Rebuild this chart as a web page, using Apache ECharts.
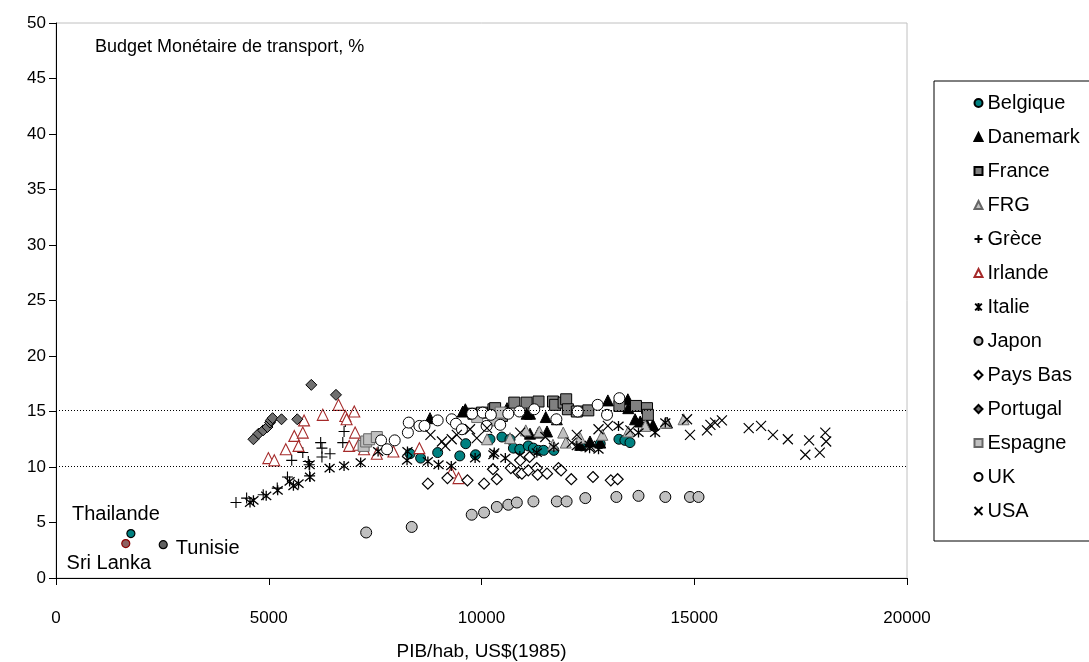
<!DOCTYPE html>
<html>
<head>
<meta charset="utf-8">
<script src="https://cdn.jsdelivr.net/npm/echarts@6/dist/echarts.min.js"></script>
<style>
  html, body { margin: 0; padding: 0; background: #fff; }
  #chart { width: 1089px; height: 662px; }
</style>
</head>
<body>
<div id="chart"></div>
<script>
// PIB/hab (US$ 1985) vs budget monétaire de transport (%)
var belgique = [[8320,11.2],[8570,10.8],[8970,11.3],[9490,11.0],[9630,12.1],[9860,11.1],[10200,12.5],[10480,12.7],[10670,12.5],[10750,11.7],[10900,11.6],[11100,11.9],[11220,11.7],[11340,11.5],[11460,11.5],[11700,11.5],[12350,11.9],[12790,12.1],[13230,12.5],[13370,12.4],[13490,12.2]];
var danemark = [[8790,14.4],[9560,15.0],[9620,15.2],[10600,15.3],[11060,14.8],[11140,14.8],[11510,14.5],[11770,14.3],[11140,13.0],[11340,13.1],[11540,13.2],[12320,12.0],[12550,12.3],[12790,12.2],[12970,16.0],[13440,16.1],[13450,15.3],[13610,14.3],[13730,14.1],[13890,13.8],[14030,13.8],[14360,14.0]];
var france = [[9810,14.8],[10010,14.9],[10280,15.2],[10320,15.3],[10480,14.6],[10770,15.8],[11060,15.8],[11340,15.9],[11680,15.9],[11730,15.6],[11930,15.8],[11990,16.1],[12030,15.2],[12240,15.0],[12510,15.1],[13240,15.5],[13630,15.5],[13890,15.3],[13910,14.7]];
var frg = [[10130,12.5],[10670,12.6],[11040,13.3],[11360,13.2],[11680,12.0],[11920,13.1],[11980,12.2],[12320,12.6],[12840,12.9],[13450,13.2],[13850,13.7],[14330,14.0],[14750,14.3]];
var grece = [[4230,6.8],[4480,7.2],[4870,7.5],[5200,8.1],[5440,9.1],[5540,10.6],[5800,11.3],[5930,10.5],[5950,10.2],[5960,9.2],[6220,12.2],[6250,11.7],[6250,10.9],[6440,11.2],[6740,12.2],[6770,13.2],[6800,14.1]];
var irlande = [[4990,10.8],[5130,10.6],[5400,11.6],[5600,12.8],[5700,11.9],[5800,13.1],[5830,14.2],[6270,14.7],[6640,15.6],[6800,14.6],[6830,14.3],[7010,15.0],[7030,13.1],[6890,11.9],[7110,12.0],[7240,11.6],[7540,11.2],[7930,11.4],[8540,11.7],[9290,9.5],[9460,9.0]];
var italie = [[4560,6.8],[4640,7.0],[4940,7.4],[5210,7.9],[5490,8.7],[5580,8.3],[5700,8.5],[5970,9.1],[5960,10.2],[6430,9.9],[6770,10.1],[7160,10.4],[7570,11.4],[8250,10.6],[8260,11.4],[8740,10.5],[8990,10.2],[9290,10.1],[9850,10.8],[10280,11.1],[10300,11.3],[10560,10.8],[10900,11.0],[11300,11.3],[11700,11.8],[12240,11.9],[12540,11.7],[12750,11.6],[13220,13.7],[13690,13.1],[14080,13.1],[14320,14.0]];
var japon = [[7290,4.1],[8360,4.6],[9770,5.7],[10060,5.9],[10360,6.4],[10630,6.6],[10830,6.8],[11220,6.9],[11770,6.9],[12000,6.9],[12440,7.2],[13170,7.3],[13690,7.4],[14320,7.3],[14900,7.3],[15100,7.3]];
var paysBas = [[8740,8.5],[9200,9.0],[9670,8.8],[10060,8.5],[10270,9.8],[10360,8.9],[10690,9.9],[10870,9.5],[10910,10.6],[10950,9.4],[11100,9.7],[11130,10.9],[11300,9.9],[11320,9.3],[11540,9.4],[11810,9.9],[11870,9.7],[12110,8.9],[12620,9.1],[13040,8.8],[13200,8.9]];
var portugal = [[4640,12.5],[4760,13.0],[4870,13.3],[4970,13.6],[5030,14.0],[5050,14.2],[5090,14.4],[5300,14.3],[5670,14.3],[6000,17.4],[6580,16.5]];
var espagne = [[7230,11.9],[7290,12.3],[7360,12.5],[7540,12.7],[9900,14.5],[10300,14.2],[10450,14.9]];
var uk = [[7640,12.4],[7780,11.6],[7960,12.4],[8270,13.1],[8290,14.0],[8540,13.7],[8660,13.7],[8970,14.2],[9300,14.3],[9400,13.9],[9540,13.4],[9780,14.8],[10030,14.9],[10120,13.7],[10220,14.7],[10440,13.8],[10630,14.8],[10890,15.0],[11240,15.2],[11760,14.3],[12260,15.0],[12730,15.6],[12950,14.7],[13240,16.2]];
var usa = [[8800,12.9],[9070,12.3],[9150,11.9],[9300,12.5],[9420,12.9],[9730,13.4],[9890,12.6],[10130,13.5],[10910,13.1],[11500,12.7],[12120,12.2],[12240,12.9],[12550,11.9],[12750,13.4],[12970,13.7],[13500,13.3],[14830,14.3],[14900,12.9],[15300,13.3],[15380,13.8],[15490,14.0],[15650,14.2],[16280,13.5],[16570,13.7],[16850,12.9],[17200,12.5],[17610,11.1],[17700,12.4],[17950,11.3],[18080,13.1],[18100,12.3]];
// isolated countries, labelled on the chart
var thailande = [[1760,4.0]];
var sriLanka = [[1640,3.1]];
var tunisie = [[2520,3.0]];
var bandLines = [15.15, 10.1];

var FONT = 'Liberation Sans, Arial, sans-serif';
var PLUS = 'path://M5,0L5,10M0,5L10,5';
var CROSS = 'path://M0,0L10,10M10,0L0,10';
var STAR = 'path://M0,0L10,10M10,0L0,10M5,-1L5,11';

function pts(name, data, symbol, size, fill, border, bw) {
  return {
    name: name, type: 'scatter', data: data,
    symbol: symbol, symbolSize: size,
    itemStyle: { color: fill, borderColor: border, borderWidth: bw == null ? 1 : bw, opacity: 1 },
    emphasis: { disabled: true }
  };
}

function tag(name, data, fill, border, label) {
  var s = pts(name, data, 'circle', 8, fill, border, 1.2);
  s.label = Object.assign({ show: true, formatter: name, color: '#000', fontFamily: FONT, fontSize: 20 }, label);
  return s;
}

var series = [
  pts('Belgique', belgique, 'circle', 10, '#008080', '#000'),
  pts('Danemark', danemark, 'triangle', 11, '#000', '#000'),
  pts('France', france, 'rect', 11, '#808080', '#000'),
  pts('FRG', frg, 'triangle', 11, '#c0c0c0', '#666'),
  pts('Grèce', grece, PLUS, 11, 'none', '#000', 1.1),
  pts('Irlande', irlande, 'triangle', 11, '#fff', '#a52a2a', 1.1),
  pts('Italie', italie, STAR, 10, 'none', '#000', 1.3),
  pts('Japon', japon, 'circle', 11, '#c0c0c0', '#000'),
  pts('Pays Bas', paysBas, 'diamond', 11, '#fff', '#000', 1.2),
  pts('Portugal', portugal, 'diamond', 11, '#707070', '#000'),
  pts('Espagne', espagne, 'rect', 11, '#c0c0c0', '#666'),
  pts('UK', uk, 'circle', 11, '#fff', '#000'),
  pts('USA', usa, CROSS, 10, 'none', '#000', 1.2),
  tag('Thailande', thailande, '#008080', '#000', { position: 'top', offset: [-15, 0] }),
  tag('Sri Lanka', sriLanka, '#8c6060', '#8b0000', { position: 'bottom', offset: [-17, 0] }),
  tag('Tunisie', tunisie, '#606060', '#000', { position: 'right', distance: 8, offset: [0, 4] })
];

series[0].markLine = {
  silent: true, symbol: 'none',
  label: { show: false },
  lineStyle: { color: '#000', type: [1, 2], width: 1 },
  data: bandLines.map(function (v) { return { yAxis: v }; })
};

var chart = echarts.init(document.getElementById('chart'));
chart.setOption({
  animation: false,
  backgroundColor: '#fff',
  textStyle: { fontFamily: FONT, color: '#000' },
  title: {
    text: 'Budget Monétaire de transport, %',
    left: 95, top: 38, padding: 0,
    textStyle: { fontFamily: FONT, fontSize: 18, fontWeight: 'normal', color: '#000' }
  },
  grid: {
    left: 56, right: 182, top: 23, bottom: 84,
    outerBoundsMode: 'none',
    show: true, borderColor: '#c0c0c0', borderWidth: 1
  },
  legend: {
    orient: 'vertical',
    left: 934, top: 81,
    data: ['Belgique', 'Danemark', 'France', 'FRG', 'Grèce', 'Irlande', 'Italie', 'Japon', 'Pays Bas', 'Portugal', 'Espagne', 'UK', 'USA'],
    borderColor: '#000', borderWidth: 1,
    padding: [12, 40, 20, 38],
    itemWidth: 8, itemHeight: 8, itemGap: 14,
    textStyle: { fontFamily: FONT, fontSize: 20, color: '#000', lineHeight: 20 }
  },
  xAxis: {
    type: 'value', min: 0, max: 20000, interval: 5000,
    name: 'PIB/hab, US$(1985)', nameLocation: 'middle', nameGap: 64,
    nameTextStyle: { fontFamily: FONT, fontSize: 19, color: '#000' },
    axisLine: { show: true, onZero: false, lineStyle: { color: '#000', width: 1 } },
    axisTick: { show: true, length: 7, lineStyle: { color: '#000' } },
    axisLabel: { margin: 32, fontFamily: FONT, fontSize: 17, color: '#000', formatter: function (v) { return String(v); } },
    splitLine: { show: false }
  },
  yAxis: {
    type: 'value', min: 0, max: 50, interval: 5,
    axisLine: { show: true, lineStyle: { color: '#000', width: 1 } },
    axisTick: { show: true, length: 7, lineStyle: { color: '#000' } },
    axisLabel: { margin: 10, fontFamily: FONT, fontSize: 17, color: '#000' },
    splitLine: { show: false }
  },
  series: series
});
</script>
</body>
</html>
